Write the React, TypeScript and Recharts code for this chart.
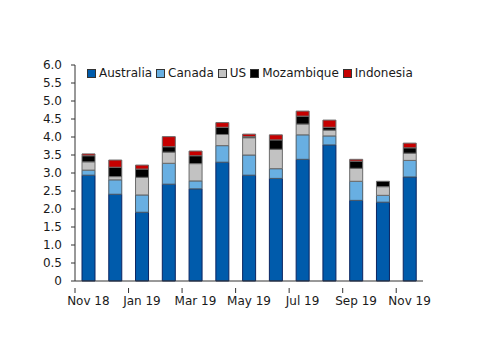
import React from "react";
import { BarChart, Bar, XAxis, YAxis } from "recharts";

const months = ["Nov 18", "Dec 18", "Jan 19", "Feb 19", "Mar 19", "Apr 19", "May 19", "Jun 19", "Jul 19", "Aug 19", "Sep 19", "Oct 19", "Nov 19"];
const australia = [2.94, 2.41, 1.91, 2.69, 2.56, 3.30, 2.94, 2.85, 3.38, 3.78, 2.24, 2.19, 2.89];
const canada = [0.14, 0.40, 0.48, 0.58, 0.22, 0.46, 0.56, 0.27, 0.68, 0.25, 0.53, 0.19, 0.46];
const us = [0.23, 0.09, 0.49, 0.31, 0.48, 0.31, 0.48, 0.54, 0.30, 0.16, 0.36, 0.24, 0.20];
const mozambique = [0.17, 0.26, 0.23, 0.15, 0.22, 0.20, 0.03, 0.26, 0.22, 0.08, 0.20, 0.15, 0.15];
const indonesia = [0.05, 0.20, 0.11, 0.28, 0.13, 0.13, 0.07, 0.14, 0.14, 0.20, 0.05, 0.00, 0.13];
const yTicks = [0, 0.5, 1, 1.5, 2, 2.5, 3, 3.5, 4, 4.5, 5, 5.5, 6];

const data = months.map((m, i) => ({
  month: m,
  Australia: australia[i],
  Canada: canada[i],
  US: us[i],
  Mozambique: mozambique[i],
  Indonesia: indonesia[i],
}));

const series = [
  { key: "Australia", fill: "#005bab", stroke: "#0b2460" },
  { key: "Canada", fill: "#68afe2", stroke: "#4d5a66" },
  { key: "US", fill: "#c2c2c2", stroke: "#6b6b6b" },
  { key: "Mozambique", fill: "#000000", stroke: "#6b6b6b" },
  { key: "Indonesia", fill: "#c60000", stroke: "#6b6b6b" },
];

const FONT = "'DejaVu Sans', sans-serif";
const FS = 12;
const W = 500;
const H = 353;
const M = { top: 65, right: 77, bottom: 42, left: 35 };
const Y_W = 40;
const plotW = W - M.left - M.right - Y_W;

const XTick = (props: any) => {
  const { x, y, payload } = props;
  const band = plotW / months.length;
  const left = x - band / 2;
  return (
    <g>
      <line x1={left} y1={y - 1} x2={left} y2={y + 4} stroke="#333" strokeWidth={1} />
      <text x={x} y={y + 16} textAnchor="middle" fontSize={FS} fontFamily={FONT} fill="#1a1a1a">
        {payload.value}
      </text>
    </g>
  );
};

const LegendBox = () => (
  <div
    style={{
      position: "absolute",
      top: 66,
      left: 87,
      display: "flex",
      alignItems: "center",
      fontFamily: FONT,
      fontSize: FS,
      color: "#1a1a1a",
      whiteSpace: "nowrap",
      lineHeight: "14px",
    }}
  >
    {series.map((s) => (
      <div key={s.key} style={{ display: "flex", alignItems: "center", marginRight: 4 }}>
        <span style={{ display: "inline-block", width: 7, height: 7, background: s.fill, border: "1px solid #333", marginRight: 3 }} />
        <span>{s.key}</span>
      </div>
    ))}
  </div>
);

export default function App() {
  return (
    <div style={{ position: "absolute", left: 0, top: 0, width: W, height: H, background: "#fff" }}>
      <BarChart width={W} height={H} data={data} margin={M} barSize={13}>
        <XAxis
          dataKey="month"
          interval={1}
          tickLine={false}
          tick={<XTick />}
          axisLine={{ stroke: "#333" }}
          height={30}
        />
        <YAxis
          domain={[0, 6]}
          ticks={yTicks}
          width={Y_W}
          tickSize={4}
          tickMargin={9}
          axisLine={{ stroke: "#333" }}
          tickLine={{ stroke: "#333" }}
          tickFormatter={(v: number) => (v === 0 ? "0" : v.toFixed(1))}
          tick={{ fontSize: FS, fontFamily: FONT, fill: "#1a1a1a" }}
          interval={0}
        />
        {series.map((s) => (
          <Bar
            key={s.key}
            dataKey={s.key}
            stackId="a"
            fill={s.fill}
            stroke={s.stroke}
            strokeWidth={1}
            isAnimationActive={false}
          />
        ))}
      </BarChart>
      <LegendBox />
    </div>
  );
}
